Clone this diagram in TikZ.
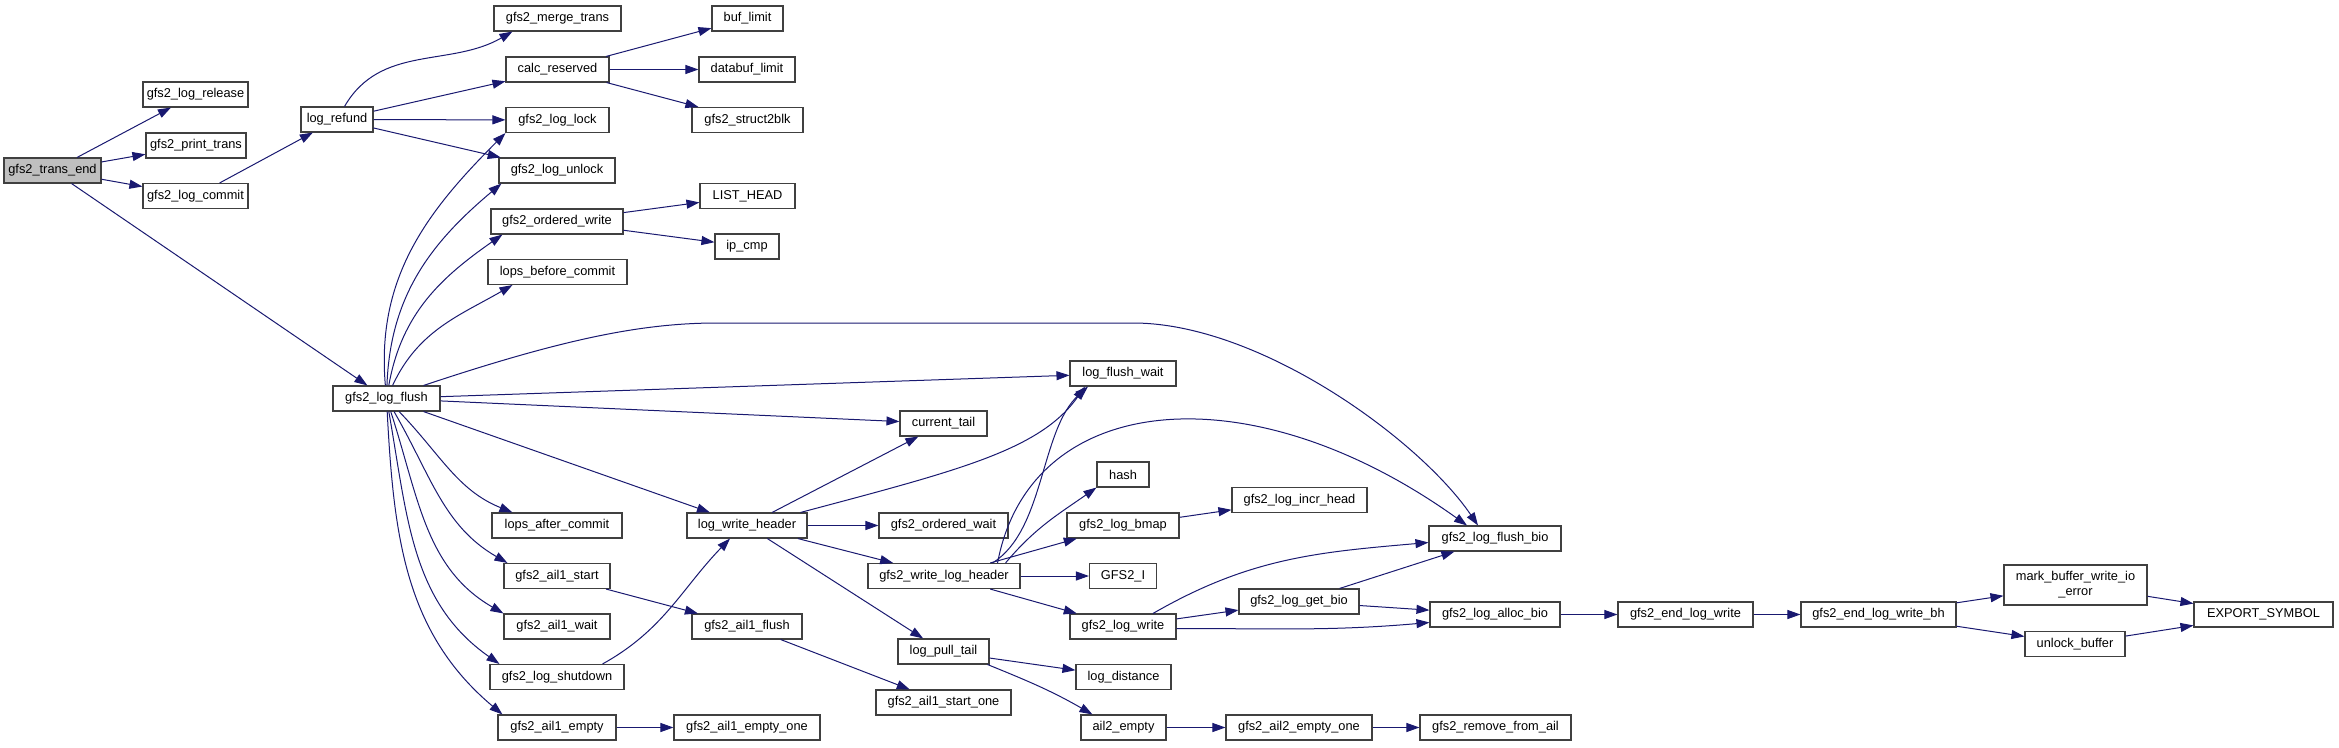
\documentclass[tikz,border=0pt]{standalone}
\usepackage{fontspec}
\setmainfont{Liberation Sans}
\usepackage{tikz}
\usetikzlibrary{arrows.meta}

\definecolor{callblue}{HTML}{191970}
\definecolor{boxgray}{HTML}{404040}
\definecolor{rootfill}{HTML}{BFBFBF}

\begin{document}
\begin{tikzpicture}[x=1pt, y=1pt,
    fn/.style={draw=boxgray, line width=1.1pt, fill=white, minimum height=25pt, inner sep=0pt, font=\fontsize{12.8}{15}\selectfont},
    root/.style={fn, fill=rootfill},
    callarrow/.style={draw=callblue, line width=1pt, -{Triangle[length=13pt,width=9pt]}}]

    \useasboundingbox (0,0) rectangle (2339,-747);

    % caller
    \node[root, minimum width=97pt] (te) at (52.5,-170.5) {gfs2\_trans\_end};

    % second rank
    \node[fn, minimum width=105pt] (release) at (195.5,-94.5) {gfs2\_log\_release};
    \node[fn, minimum width=100pt] (printtr) at (196,-145.5) {gfs2\_print\_trans};
    \node[fn, minimum width=105pt] (commit) at (195.5,-196) {gfs2\_log\_commit};
    \node[fn, minimum width=72pt] (refund) at (337,-119.5) {log\_refund};
    \node[fn, minimum width=107pt] (flush) at (386.5,-398.5) {gfs2\_log\_flush};

    % middle column
    \node[fn, minimum width=127pt] (merge) at (557.5,-18.5) {gfs2\_merge\_trans};
    \node[fn, minimum width=103pt] (calcres) at (557.5,-69.5) {calc\_reserved};
    \node[fn, minimum width=103pt] (lock) at (557.5,-120) {gfs2\_log\_lock};
    \node[fn, minimum width=116pt] (unlock) at (557,-170.5) {gfs2\_log\_unlock};
    \node[fn, minimum width=132pt] (ordwrite) at (557,-221.5) {gfs2\_ordered\_write};
    \node[fn, minimum width=139pt] (lopsbefore) at (557.5,-272) {lops\_before\_commit};
    \node[fn, minimum width=130pt] (lopsafter) at (557,-525.5) {lops\_after\_commit};
    \node[fn, minimum width=106pt] (ail1start) at (557,-576) {gfs2\_ail1\_start};
    \node[fn, minimum width=106pt] (ail1wait) at (557,-626.5) {gfs2\_ail1\_wait};
    \node[fn, minimum width=134pt] (shutdown) at (557,-677) {gfs2\_log\_shutdown};
    \node[fn, minimum width=118pt] (ail1empty) at (557,-727.5) {gfs2\_ail1\_empty};

    \node[fn, minimum width=71pt] (buflimit) at (747.5,-18.5) {buf\_limit};
    \node[fn, minimum width=96pt] (databuf) at (747,-69.5) {databuf\_limit};
    \node[fn, minimum width=111pt] (struct2blk) at (747.5,-120) {gfs2\_struct2blk};
    \node[fn, minimum width=95pt] (listhead) at (747.5,-196) {LIST\_HEAD};
    \node[fn, minimum width=64pt] (ipcmp) at (747,-246.5) {ip\_cmp};
    \node[fn, minimum width=120pt] (lwh) at (747,-525.5) {log\_write\_header};
    \node[fn, minimum width=110pt] (ail1flush) at (747,-626.5) {gfs2\_ail1\_flush};
    \node[fn, minimum width=146pt] (ail1emptyone) at (747,-727.5) {gfs2\_ail1\_empty\_one};

    \node[fn, minimum width=87pt] (current) at (943.5,-423.5) {current\_tail};
    \node[fn, minimum width=129pt] (ordwait) at (943.5,-525.5) {gfs2\_ordered\_wait};
    \node[fn, minimum width=152pt] (gwlh) at (944,-576) {gfs2\_write\_log\_header};
    \node[fn, minimum width=91pt] (pulltail) at (943.5,-651.5) {log\_pull\_tail};
    \node[fn, minimum width=135pt] (ail1startone) at (943.5,-702.5) {gfs2\_ail1\_start\_one};

    \node[fn, minimum width=106pt] (flushwait) at (1123,-373.5) {log\_flush\_wait};
    \node[fn, minimum width=52pt] (hash) at (1123,-474.5) {hash};
    \node[fn, minimum width=112pt] (bmap) at (1123,-525.5) {gfs2\_log\_bmap};
    \node[fn, minimum width=67pt] (gfsi) at (1123,-576) {GFS2\_I};
    \node[fn, minimum width=106pt] (logwrite) at (1123,-626.5) {gfs2\_log\_write};
    \node[fn, minimum width=95pt] (distance) at (1123.5,-677) {log\_distance};
    \node[fn, minimum width=85pt] (ail2empty) at (1123.5,-727.5) {ail2\_empty};

    \node[fn, minimum width=135pt] (incrhead) at (1299.5,-500) {gfs2\_log\_incr\_head};
    \node[fn, minimum width=120pt] (getbio) at (1299,-601.5) {gfs2\_log\_get\_bio};
    \node[fn, minimum width=146pt] (ail2emptyone) at (1299,-727.5) {gfs2\_ail2\_empty\_one};

    \node[fn, minimum width=132pt] (flushbio) at (1495,-538.5) {gfs2\_log\_flush\_bio};
    \node[fn, minimum width=130pt] (allocbio) at (1495,-614.5) {gfs2\_log\_alloc\_bio};
    \node[fn, minimum width=151pt] (removeail) at (1495.5,-727.5) {gfs2\_remove\_from\_ail};

    \node[fn, minimum width=135pt] (endlw) at (1685.5,-614.5) {gfs2\_end\_log\_write};
    \node[fn, minimum width=155pt] (endlwbh) at (1878.5,-614.5) {gfs2\_end\_log\_write\_bh};
    \node[fn, minimum width=143pt, minimum height=40pt, align=center] (markbuf) at (2075.5,-585) {mark\_buffer\_write\_io\\\_error};
    \node[fn, minimum width=100pt] (unlockbuf) at (2075,-644) {unlock\_buffer};
    \node[fn, minimum width=139pt] (export) at (2263.5,-614.5) {EXPORT\_SYMBOL};

    \coordinate (topleft) at (717,-323);
    \coordinate (topright) at (1133,-323);

    % calls of gfs2_trans_end
    \draw[callarrow] (te) -- (release);
    \draw[callarrow] (te) -- (printtr);
    \draw[callarrow] (te) -- (commit);
    \draw[callarrow] (te) -- (flush);
    \draw[callarrow] (commit) -- (refund);

    % log_refund
    \draw[callarrow] (refund) to[out=60,in=210] ([xshift=19pt]merge.south west);
    \draw[callarrow] (refund) -- (calcres);
    \draw[callarrow] (refund) -- (lock);
    \draw[callarrow] (refund) -- (unlock);
    \draw[callarrow] (calcres) -- (buflimit);
    \draw[callarrow] (calcres) -- (databuf);
    \draw[callarrow] (calcres) -- (struct2blk);
    \draw[callarrow] (ordwrite) -- (listhead);
    \draw[callarrow] (ordwrite) -- (ipcmp);

    % gfs2_log_flush
    \draw[callarrow] (flush) to[out=95,in=225] (lock.south west);
    \draw[callarrow] (flush) to[out=88,in=220] ([xshift=3pt]unlock.south west);
    \draw[callarrow] (flush) to[out=80,in=215] ([xshift=12pt]ordwrite.south west);
    \draw[callarrow] (flush) to[out=65,in=210] ([xshift=25pt]lopsbefore.south west);
    \draw[callarrow] ([xshift=-17pt]flush.north east) .. controls (560,-340) and (640,-323) .. (topleft)
        -- (topright) .. controls (1260,-323) and (1420,-440) .. ([xshift=-17pt]flushbio.north);
    \draw[callarrow] (flush) -- (flushwait);
    \draw[callarrow] (flush) -- (current);
    \draw[callarrow] (flush) -- (lwh);
    \draw[callarrow] (flush) to[out=-46,in=158] ([xshift=21pt]lopsafter.north west);
    \draw[callarrow] (flush) to[out=-60,in=150] ([xshift=4pt]ail1start.north west);
    \draw[callarrow] (flush) to[out=-72,in=150] (ail1wait.north west);
    \draw[callarrow] (flush) to[out=-80,in=145] ([xshift=10pt]shutdown.north west);
    \draw[callarrow] (flush) to[out=-87,in=140] ([xshift=5pt]ail1empty.north west);

    \draw[callarrow] (ail1start) -- (ail1flush);
    \draw[callarrow] (ail1flush) -- (ail1startone);
    \draw[callarrow] ([xshift=-22pt]shutdown.north east) to[out=29,in=226] ([xshift=-17pt]lwh.south);
    \draw[callarrow] (ail1empty) -- (ail1emptyone);

    % log_write_header
    \draw[callarrow] (lwh) -- (current);
    \draw[callarrow] ([xshift=-7pt]lwh.north east) .. controls (960,-470) and (1040,-450) .. ([xshift=-38pt]flushwait.south);
    \draw[callarrow] (lwh) -- (ordwait);
    \draw[callarrow] (lwh) -- (gwlh);
    \draw[callarrow] (lwh) -- (pulltail);

    % gfs2_write_log_header
    \draw[callarrow] ([xshift=-28pt]gwlh.north east) .. controls (1045,-530) and (1040,-430) .. ([xshift=-35pt]flushwait.south);
    \draw[callarrow] ([xshift=-23pt]gwlh.north east) .. controls (1030,-390) and (1250,-370) .. ([xshift=-28pt]flushbio.north);
    \draw[callarrow] ([xshift=-15pt]gwlh.north east) to[out=50,in=215] (hash.south west);
    \draw[callarrow] (gwlh) -- (bmap);
    \draw[callarrow] (gwlh) -- (gfsi);
    \draw[callarrow] (gwlh) -- (logwrite);
    \draw[callarrow] (bmap) -- (incrhead);

    % gfs2_log_write
    \draw[callarrow] ([xshift=30pt]logwrite.north) to[out=30,in=185] ([yshift=-4pt]flushbio.west);
    \draw[callarrow] (logwrite) -- (getbio);
    \draw[callarrow] ([yshift=-2pt]logwrite.east) to[out=0,in=185] ([yshift=-8pt]allocbio.west);
    \draw[callarrow] (getbio) -- (flushbio);
    \draw[callarrow] (getbio) -- (allocbio);
    \draw[callarrow] (allocbio) -- (endlw);
    \draw[callarrow] (endlw) -- (endlwbh);
    \draw[callarrow] (endlwbh) -- (markbuf);
    \draw[callarrow] (endlwbh) -- (unlockbuf);
    \draw[callarrow] (markbuf) -- (export);
    \draw[callarrow] (unlockbuf) -- (export);

    % log_pull_tail
    \draw[callarrow] (pulltail) -- (distance);
    \draw[callarrow] ([xshift=-2pt]pulltail.south east) to[out=-22,in=150] ([xshift=12pt]ail2empty.north west);
    \draw[callarrow] (ail2empty) -- (ail2emptyone);
    \draw[callarrow] (ail2emptyone) -- (removeail);

\end{tikzpicture}
\end{document}
